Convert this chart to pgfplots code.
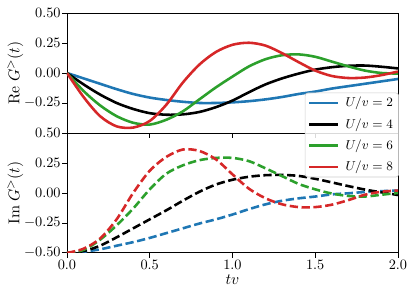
\documentclass[border=0pt]{standalone}
\usepackage{pgfplots}
\pgfplotsset{compat=1.18}
\usepackage{pgfplotstable}
\definecolor{tabblue}{HTML}{1F77B4}
\definecolor{tabgreen}{HTML}{2CA02C}
\definecolor{tabred}{HTML}{D62728}
\pgfplotstableread{
t   b      k      g      r
0.0 0      0      0      0
0.1 -0.045 -0.095 -0.15  -0.20
0.2 -0.09  -0.18  -0.27  -0.36
0.3 -0.135 -0.25  -0.36  -0.445
0.4 -0.175 -0.30  -0.415 -0.455
0.5 -0.205 -0.335 -0.43  -0.40
0.6 -0.225 -0.348 -0.39  -0.265
0.7 -0.24  -0.345 -0.32  -0.08
0.8 -0.25  -0.325 -0.22  0.07
0.9 -0.25  -0.285 -0.12  0.175
1.0 -0.245 -0.23  -0.03  0.235
1.1 -0.235 -0.16  0.055  0.252
1.2 -0.22  -0.095 0.115  0.228
1.3 -0.20  -0.045 0.148  0.165
1.4 -0.175 -0.005 0.155  0.09
1.5 -0.155 0.028  0.135  0.02
1.6 -0.13  0.048  0.095  -0.025
1.7 -0.11  0.06   0.055  -0.042
1.8 -0.09  0.062  0.02   -0.038
1.9 -0.07  0.052  0.0    -0.018
2.0 -0.05  0.038  -0.005 0.012
}\ReTab
\pgfplotstableread{
t   b      k      g      r
0.0 -0.5   -0.5   -0.5   -0.5
0.1 -0.49  -0.485 -0.475 -0.465
0.2 -0.47  -0.44  -0.39  -0.38
0.3 -0.44  -0.37  -0.27  -0.22
0.4 -0.41  -0.295 -0.13  0.0
0.5 -0.375 -0.22  0.03   0.185
0.6 -0.335 -0.145 0.16   0.30
0.7 -0.295 -0.065 0.23   0.362
0.8 -0.255 0.01   0.273  0.35
0.9 -0.22  0.07   0.292  0.28
1.0 -0.18  0.11   0.292  0.155
1.1 -0.135 0.135  0.265  0.035
1.2 -0.095 0.148  0.205  -0.045
1.3 -0.065 0.15   0.14   -0.095
1.4 -0.045 0.142  0.075  -0.118
1.5 -0.03  0.118  0.03   -0.118
1.6 -0.012 0.088  -0.005 -0.098
1.7 -0.003 0.057  -0.025 -0.06
1.8 0.008  0.028  -0.03  -0.015
1.9 0.015  0.005  -0.015 0.01
2.0 0.02   -0.017 0.0    0.02
}\ImTab
\pgfplotsset{
  panel/.style={
    scale only axis, width=231.5pt, height=83.9pt,
    xmin=0, xmax=2, ymin=-0.5, ymax=0.5,
    tick align=outside, xtick pos=bottom, ytick pos=left,
    major tick length=3.3pt,
    tick style={black, line width=0.6pt},
    axis line style={black, line width=0.6pt},
    xtick={0,0.5,1,1.5,2},
    yticklabel style={/pgf/number format/fixed, /pgf/number format/fixed zerofill, /pgf/number format/precision=2, inner sep=1pt},
    xticklabel style={/pgf/number format/fixed, /pgf/number format/fixed zerofill, /pgf/number format/precision=1, inner sep=1.5pt},
    every axis plot/.append style={line width=1.8pt, smooth},
    every axis y label/.style={at={(axis description cs:-0.156,0.5)}, rotate=90, anchor=center, font=\fontsize{11}{13}\selectfont},
    every axis x label/.style={at={(axis description cs:0.5,-0.225)}, anchor=center, font=\fontsize{11}{13}\selectfont},
  }
}
\begin{document}
\begin{tikzpicture}
\begin{axis}[panel, at={(0pt,83.9pt)}, anchor=south west,
  ytick={-0.25,0,0.25,0.5}, xticklabels={},
  ylabel={$\mathrm{Re}\;G^{>}(t)$}]
\addplot[tabblue] table[x=t,y=b]{\ReTab};
\addplot[black] table[x=t,y=k]{\ReTab};
\addplot[tabgreen] table[x=t,y=g]{\ReTab};
\addplot[tabred] table[x=t,y=r]{\ReTab};
\end{axis}
\begin{axis}[panel, at={(0pt,0pt)}, anchor=south west,
  ytick={-0.5,-0.25,0,0.25,0.5},
  ylabel={$\mathrm{Im}\;G^{>}(t)$}, xlabel={$tv$},
  legend cell align=left,
  legend image code/.code={\draw[#1, line width=1.8pt] (0pt,0pt) -- (20pt,0pt);},
  legend style={at={(1.003,1.336)}, anchor=north east, draw=black!20, rounded corners=2pt,
    fill=white, fill opacity=0.85, text opacity=1, inner xsep=2pt, inner ysep=1pt,
    nodes={inner sep=2pt, font=\fontsize{9.5}{11}\selectfont}, row sep=2.6pt, column sep=2.5pt}]
\addlegendimage{tabblue, solid}
\addlegendentry{$U/v=2$}
\addlegendimage{black, solid}
\addlegendentry{$U/v=4$}
\addlegendimage{tabgreen, solid}
\addlegendentry{$U/v=6$}
\addlegendimage{tabred, solid}
\addlegendentry{$U/v=8$}
\addplot[tabblue, dash pattern=on 5.8pt off 2.5pt, forget plot] table[x=t,y=b]{\ImTab};
\addplot[black, dash pattern=on 5.8pt off 2.5pt, forget plot] table[x=t,y=k]{\ImTab};
\addplot[tabgreen, dash pattern=on 5.8pt off 2.5pt, forget plot] table[x=t,y=g]{\ImTab};
\addplot[tabred, dash pattern=on 5.8pt off 2.5pt, forget plot] table[x=t,y=r]{\ImTab};
\end{axis}
\pgfresetboundingbox
\path (-46.85pt,-30.8pt) rectangle (243.4pt,176.9pt);
\end{tikzpicture}
\end{document}
